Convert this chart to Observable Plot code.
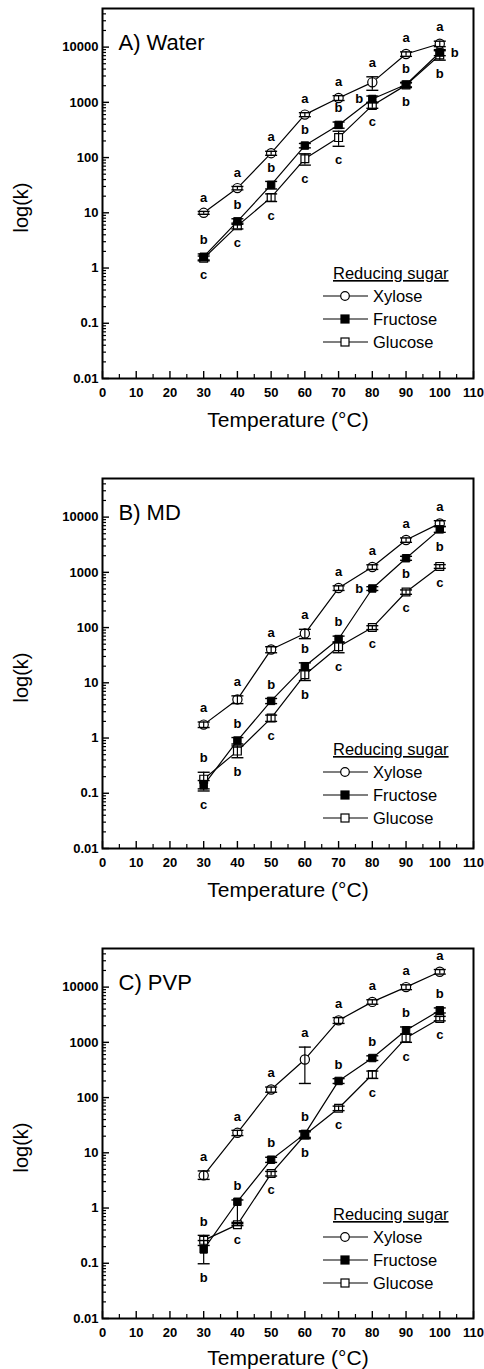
<!DOCTYPE html>
<html><head><meta charset="utf-8">
<script src="https://cdn.jsdelivr.net/npm/d3@7"></script>
<script src="https://cdn.jsdelivr.net/npm/@observablehq/plot@0.6"></script>
<style>
body{margin:0;background:#fff;}
#charts svg{display:block;}
</style></head><body><div id="charts"></div>
<script>
// ---------- data ----------
const temperature = [30, 40, 50, 60, 70, 80, 90, 100];
const sugars = ["Xylose", "Fructose", "Glucose"];
const panelTitles = ["A) Water", "B) MD", "C) PVP"];
const yTickValues = [0.01, 0.1, 1, 10, 100, 1000, 10000];
const xTickValues = [0, 10, 20, 30, 40, 50, 60, 70, 80, 90, 100, 110];
const legendTitle = "Reducing sugar";
const xLabel = "Temperature (°C)";
const yLabel = "log(k)";

// A) Water
const waterXylose      = [10, 28, 120, 600, 1200, 2300, 7500, 11500];
const waterXyloseDown  = [0.6, 2, 10, 50, 120, 650, 700, 1300];
const waterXyloseUp    = [0.6, 2, 10, 50, 120, 600, 700, 1300];
const waterFructose    = [1.6, 7, 32, 165, 390, 1150, 2100, 8000];
const waterFructoseDown= [0.2, 0.8, 5, 15, 50, 150, 200, 1000];
const waterFructoseUp  = [0.2, 0.8, 5, 15, 50, 150, 200, 1000];
const waterGlucose     = [1.5, 5.8, 19, 95, 230, 880, 2050, 7200];
const waterGlucoseDown = [0.15, 0.7, 3, 22, 70, 100, 200, 1400];
const waterGlucoseUp   = [0.15, 0.7, 3, 22, 70, 100, 200, 1400];
const waterXyloseLetters   = ["a","a","a","a","a","a","a","a"];
const waterFructoseLetters = ["b","b","b","b","b","b","b","b"];
const waterGlucoseLetters  = ["c","c","c","c","c","c","b","b"];
const waterXyloseSides   = ["t","t","t","t","t","t","t","t"];
const waterFructoseSides = ["t","t","t","t","t","l","t","r"];
const waterGlucoseSides  = ["b","b","b","b","b","b","b","b"];

// B) MD
const mdXylose       = [1.75, 5, 40, 78, 520, 1250, 3850, 7700];
const mdXyloseDown   = [0.2, 0.8, 5, 15, 50, 120, 350, 900];
const mdXyloseUp     = [0.2, 0.8, 5, 15, 50, 120, 350, 900];
const mdFructose     = [0.14, 0.9, 4.7, 20, 62, 510, 1800, 6000];
const mdFructoseDown = [0.03, 0.12, 0.5, 3, 8, 40, 150, 700];
const mdFructoseUp   = [0.03, 0.12, 0.5, 3, 8, 40, 150, 700];
const mdGlucose      = [0.18, 0.58, 2.3, 14, 45, 100, 440, 1280];
const mdGlucoseDown  = [0.06, 0.14, 0.3, 3, 10, 8, 40, 100];
const mdGlucoseUp    = [0.06, 0.14, 0.3, 3, 10, 8, 40, 100];
const mdXyloseLetters   = ["a","a","a","a","a","a","a","a"];
const mdFructoseLetters = ["c","b","b","b","b","b","b","b"];
const mdGlucoseLetters  = ["b","b","c","b","c","c","c","c"];
const mdXyloseSides   = ["t","t","t","t","t","t","t","t"];
const mdFructoseSides = ["b","t","t","t","t","l","b","b"];
const mdGlucoseSides  = ["t","b","b","b","b","b","b","b"];

// C) PVP
const pvpXylose       = [3.9, 23, 140, 490, 2500, 5400, 10000, 19000];
const pvpXyloseDown   = [0.6, 2.5, 15, 310, 300, 500, 1000, 1800];
const pvpXyloseUp     = [0.8, 2.5, 15, 330, 300, 500, 1000, 1800];
const pvpFructose     = [0.178, 1.3, 7.5, 22, 200, 520, 1650, 3800];
const pvpFructoseDown = [0.08, 0.75, 0.8, 3, 20, 50, 250, 400];
const pvpFructoseUp   = [0.08, 0.1, 0.8, 3, 20, 50, 250, 400];
const pvpGlucose      = [0.26, 0.5, 4.2, 21, 64, 262, 1200, 2700];
const pvpGlucoseDown  = [0.05, 0.02, 0.4, 3, 6, 40, 200, 250];
const pvpGlucoseUp    = [0.06, 0.02, 0.4, 3, 6, 40, 200, 250];
const pvpXyloseLetters   = ["a","a","a","a","a","a","a","a"];
const pvpFructoseLetters = ["b","b","b","b","b","b","b","b"];
const pvpGlucoseLetters  = ["b","c","c","b","c","c","c","c"];
const pvpXyloseSides   = ["t","t","t","t","t","t","t","t"];
const pvpFructoseSides = ["b","t","t","t","t","t","t","t"];
const pvpGlucoseSides  = ["t","b","b","b","b","b","b","b"];

// ---------- drawing ----------
const FONT = "'Liberation Sans', Arial, Helvetica, sans-serif";
const W = 484, ML = 102, MR = 11, MT = 8, PH = 370;
const PW = W - ML - MR;

function buildRows(values, downs, ups, letters, sides) {
  const rows = [];
  sugars.forEach((s, si) => {
    temperature.forEach((t, i) => {
      const v = values[si][i];
      rows.push({sugar: s, t, v, lo: v - downs[si][i], hi: v + ups[si][i],
                 letter: letters[si][i], side: sides[si][i]});
    });
  });
  return rows;
}

const capSymbol = {draw(ctx) { ctx.moveTo(-6, 0); ctx.lineTo(6, 0); }};

function yMinor() {
  const out = [];
  for (let e = -2; e <= 4; e++) for (let m = 2; m <= 9; m++) {
    const v = m * Math.pow(10, e);
    if (v < 50000) out.push(v);
  }
  return out;
}
const xMinor = d3.range(5, 110, 10);

function makePanel(title, rows, height, legendShift, xLabelDy) {
  const sw = 1.2;
  const plot = Plot.plot({
    width: W, height,
    marginLeft: ML, marginRight: MR, marginTop: MT, marginBottom: height - MT - PH,
    style: {fontFamily: FONT, fontSize: "13px", color: "black", background: "white"},
    x: {domain: [0, 110]},
    y: {type: "log", domain: [0.01, 50000]},
    marks: [
      Plot.tickY(yMinor(), {y: d => d, insetRight: PW - 4, stroke: "black", strokeWidth: 1.2}),
      Plot.tickY(yTickValues, {y: d => d, insetRight: PW - 7, stroke: "black", strokeWidth: 1.4}),
      Plot.tickX(xMinor, {x: d => d, insetTop: PH - 4, stroke: "black", strokeWidth: 1.2}),
      Plot.tickX(xTickValues, {x: d => d, insetTop: PH - 7, stroke: "black", strokeWidth: 1.4}),
      Plot.frame({stroke: "black", strokeWidth: 2}),
      Plot.axisY({ticks: yTickValues, tickSize: 0, tickPadding: 4, tickFormat: d => String(d),
                  fontWeight: "bold", fontSize: 13, label: null}),
      Plot.axisX({ticks: xTickValues, tickSize: 0, tickPadding: 9, tickFormat: d => String(d),
                  fontWeight: "bold", fontSize: 13, label: null}),
      Plot.line(rows, {x: "t", y: "v", z: "sugar", stroke: "black", strokeWidth: sw}),
      Plot.dot(rows.filter(d => d.sugar === "Xylose"), {x: "t", y: "v", symbol: "circle", r: 4.6,
               fill: "white", stroke: "black", strokeWidth: sw}),
      Plot.dot(rows.filter(d => d.sugar === "Glucose"), {x: "t", y: "v", symbol: "square", r: 4.4,
               fill: "white", stroke: "black", strokeWidth: sw}),
      Plot.dot(rows.filter(d => d.sugar === "Fructose"), {x: "t", y: "v", symbol: "square", r: 4.2,
               fill: "black", stroke: "black", strokeWidth: 1}),
      Plot.ruleX(rows, {x: "t", y1: "lo", y2: "hi", stroke: "black", strokeWidth: sw}),
      Plot.dot(rows, {x: "t", y: "lo", symbol: capSymbol, stroke: "black", strokeWidth: 1.4}),
      Plot.dot(rows, {x: "t", y: "hi", symbol: capSymbol, stroke: "black", strokeWidth: 1.4}),
      Plot.text(rows.filter(d => d.side === "t"), {x: "t", y: "hi", text: "letter", dy: -14,
               fontWeight: "bold", fontSize: 13}),
      Plot.text(rows.filter(d => d.side === "b"), {x: "t", y: "lo", text: "letter", dy: 14,
               fontWeight: "bold", fontSize: 13}),
      Plot.text(rows.filter(d => d.side === "l"), {x: "t", y: "v", text: "letter", dx: -13,
               fontWeight: "bold", fontSize: 13}),
      Plot.text(rows.filter(d => d.side === "r"), {x: "t", y: "v", text: "letter", dx: 15,
               fontWeight: "bold", fontSize: 13}),
      Plot.text([title], {frameAnchor: "top-left", dx: 16, dy: 41, lineAnchor: "bottom",
               textAnchor: "start", fontSize: 22}),
      Plot.text([yLabel], {frameAnchor: "left", rotate: -90, dx: -75, dy: 14, lineAnchor: "bottom",
               textAnchor: "middle", fontSize: 20}),
      Plot.text([xLabel], {frameAnchor: "bottom", dy: xLabelDy, lineAnchor: "bottom",
               textAnchor: "middle", fontSize: 21})
    ]
  });
  document.getElementById("charts").appendChild(plot);

  // legend
  const g = d3.select(plot).append("g")
    .attr("transform", `translate(${ML},${MT + legendShift})`)
    .attr("font-family", FONT)
    .attr("text-anchor", "start");
  g.append("text").attr("x", 231).attr("y", 265 + 6).attr("font-size", 16.5)
    .attr("text-anchor", "start")
    .attr("text-decoration", "underline").attr("fill", "black").text(legendTitle);
  const itemY = [288, 311, 334];
  sugars.forEach((s, i) => {
    const yy = itemY[i];
    g.append("line").attr("x1", 221).attr("x2", 266).attr("y1", yy).attr("y2", yy)
      .attr("stroke", "black").attr("stroke-width", 1.2);
    if (s === "Xylose") {
      g.append("circle").attr("cx", 243).attr("cy", yy).attr("r", 4.3)
        .attr("fill", "white").attr("stroke", "black").attr("stroke-width", 1.2);
    } else {
      g.append("rect").attr("x", 239).attr("y", yy - 4).attr("width", 8).attr("height", 8)
        .attr("fill", s === "Fructose" ? "black" : "white").attr("stroke", "black").attr("stroke-width", 1.2);
    }
    g.append("text").attr("x", 271).attr("y", yy + 6).attr("font-size", 16.5)
      .attr("text-anchor", "start").attr("fill", "black").text(s);
  });
}

const rowsA = buildRows(
  [waterXylose, waterFructose, waterGlucose],
  [waterXyloseDown, waterFructoseDown, waterGlucoseDown],
  [waterXyloseUp, waterFructoseUp, waterGlucoseUp],
  [waterXyloseLetters, waterFructoseLetters, waterGlucoseLetters],
  [waterXyloseSides, waterFructoseSides, waterGlucoseSides]);
const rowsB = buildRows(
  [mdXylose, mdFructose, mdGlucose],
  [mdXyloseDown, mdFructoseDown, mdGlucoseDown],
  [mdXyloseUp, mdFructoseUp, mdGlucoseUp],
  [mdXyloseLetters, mdFructoseLetters, mdGlucoseLetters],
  [mdXyloseSides, mdFructoseSides, mdGlucoseSides]);
const rowsC = buildRows(
  [pvpXylose, pvpFructose, pvpGlucose],
  [pvpXyloseDown, pvpFructoseDown, pvpGlucoseDown],
  [pvpXyloseUp, pvpFructoseUp, pvpGlucoseUp],
  [pvpXyloseLetters, pvpFructoseLetters, pvpGlucoseLetters],
  [pvpXyloseSides, pvpFructoseSides, pvpGlucoseSides]);

makePanel(panelTitles[0], rowsA, 470, 0, 48);
makePanel(panelTitles[1], rowsB, 470, 6, 48);
makePanel(panelTitles[2], rowsC, 429, 1, 46);
</script></body></html>
